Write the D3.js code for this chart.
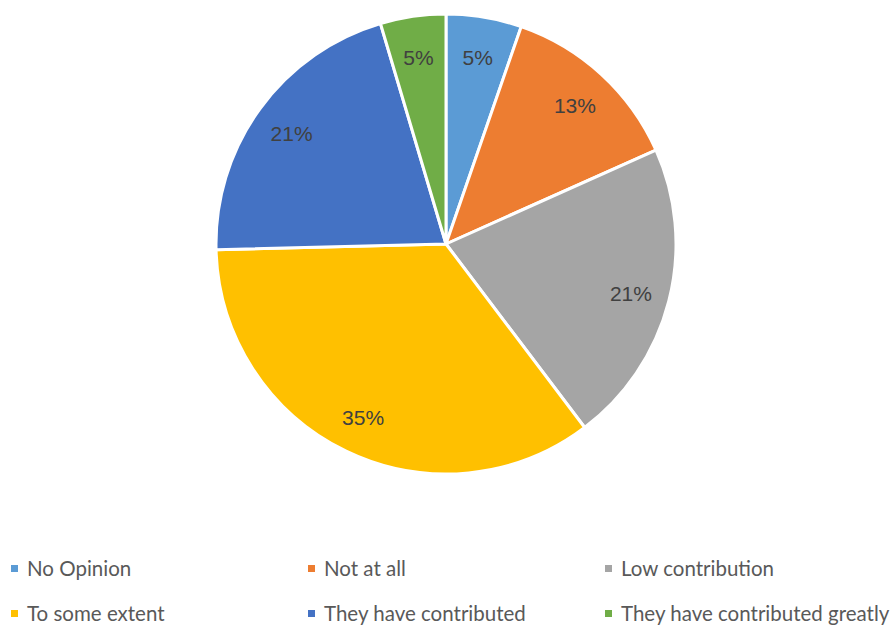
<!DOCTYPE html>
<html lang="en">
<head>
<meta charset="UTF-8">
<title>Pie chart</title>
<script src="https://d3js.org/d3.v7.min.js"></script>
<style>
  body { margin: 0; background: #fff; }
  .label { font-family: "Liberation Sans", Arial, sans-serif; font-size: 21px; fill: #404040; }
  .legend text { font-family: "Lato", "Open Sans", sans-serif; font-size: 20.5px; fill: #595959; }
</style>
</head>
<body>
<div id="chart"></div>
<script>
const width = 895;
const height = 626;

// categories and their share (percent)
const categories = ["No Opinion", "Not at all", "Low contribution", "To some extent", "They have contributed", "They have contributed greatly"];
const values = [5.3, 13.0, 21.4, 34.9, 20.8, 4.6];
const colors = ["#5B9BD5", "#ED7D31", "#A5A5A5", "#FFC000", "#4472C4", "#70AD47"];

const data = categories.map((c, i) => ({ name: c, value: values[i], color: colors[i] }));

const cx = 446, cy = 244, r = 230;

const svg = d3.select("#chart").append("svg")
    .attr("width", width)
    .attr("height", height);

const pie = d3.pie().value(d => d.value).sort(null);
const arc = d3.arc().innerRadius(0).outerRadius(r);
const labelArc = d3.arc().innerRadius(r * 0.83).outerRadius(r * 0.83);

const g = svg.append("g").attr("transform", `translate(${cx},${cy})`);
const arcs = pie(data);

g.selectAll("path")
    .data(arcs)
    .join("path")
    .attr("d", arc)
    .attr("fill", d => d.data.color)
    .attr("stroke", "#fff")
    .attr("stroke-width", 3)
    .attr("stroke-linejoin", "round");

g.selectAll("text")
    .data(arcs)
    .join("text")
    .attr("class", "label")
    .attr("transform", d => `translate(${labelArc.centroid(d)})`)
    .attr("text-anchor", "middle")
    .attr("dy", "0.45em")
    .text(d => Math.round(d.data.value) + "%");

// legend: 3 columns, 2 rows
const colX = [11, 308, 605];
const rowY = [569, 614];
const legend = svg.append("g").attr("class", "legend");
const item = legend.selectAll("g")
    .data(data)
    .join("g")
    .attr("transform", (d, i) => `translate(${colX[i % 3]},${rowY[Math.floor(i / 3)]})`);

item.append("rect")
    .attr("x", 0).attr("y", -4)
    .attr("width", 7).attr("height", 7)
    .attr("fill", d => d.color);

item.append("text")
    .attr("x", 16)
    .attr("dy", "0.35em")
    .text(d => d.name);
</script>
</body>
</html>
